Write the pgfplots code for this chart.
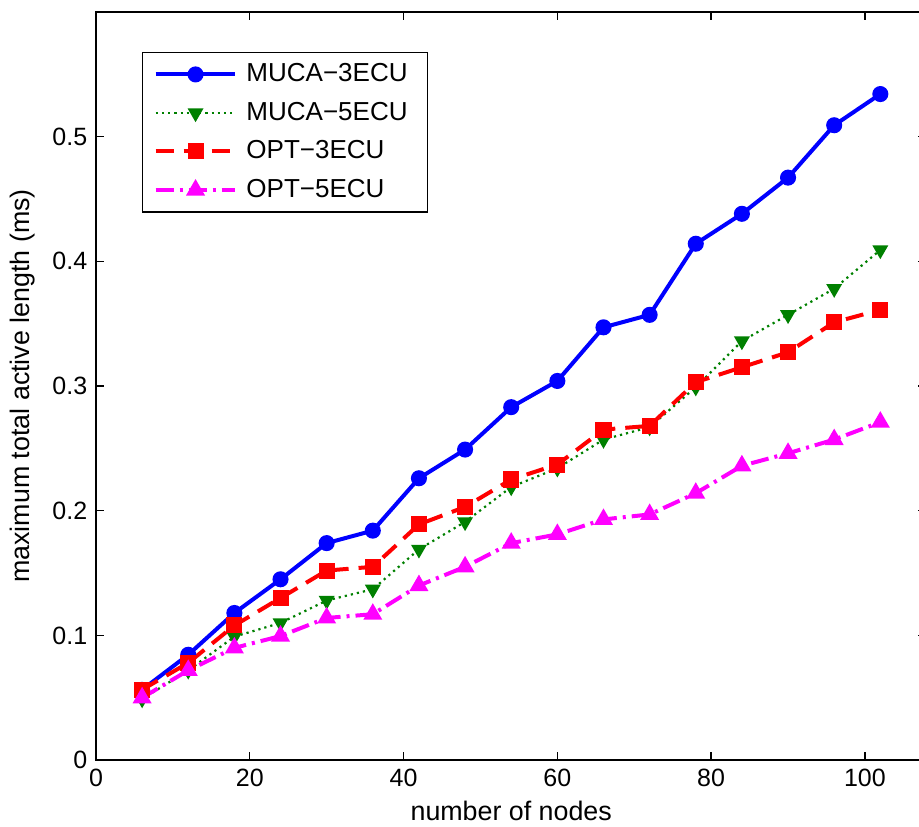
\documentclass[border=0pt]{standalone}
\usepackage{fontspec}
\setmainfont{Liberation Sans}
\usepackage{pgfplots}
\pgfplotsset{compat=1.18}
\definecolor{mgreen}{rgb}{0,0.5,0}
\definecolor{mmag}{rgb}{1,0,1}
\definecolor{mblue}{rgb}{0,0,1}
\definecolor{mred}{rgb}{1,0,0}
\begin{document}
\fontsize{12.5}{15}\selectfont
\begin{tikzpicture}
\begin{axis}[
  scale only axis,
  width=415pt, height=374pt,
  xmin=0, xmax=108, ymin=0, ymax=0.6,
  xtick={0,20,40,60,80,100},
  ytick={0,0.1,0.2,0.3,0.4,0.5},
  yticklabels={0,0.1,0.2,0.3,0.4,0.5},
  tick align=inside,
  major tick length=4pt,
  minor tick num=0,
  axis line style={line width=0.9pt},
  every tick/.style={line width=0.7pt, black},
  /pgf/number format/assume math mode=true,
  tick label style={font=\fontsize{12.5}{15}\selectfont},
  label style={font=\fontsize{13.4}{16}\selectfont},
  xlabel={number of nodes},
  ylabel={maximum total active length (ms)},
  xlabel style={yshift=1.2pt},
  ylabel style={yshift=0pt},
  clip=false,
  legend style={at={(axis description cs:0.0554,0.9465)}, anchor=north west,
    draw=black, line width=0.7pt, font=\fontsize{13}{15}\selectfont,
    row sep=4.3pt, inner xsep=5.5pt, inner ysep=3.5pt,
    nodes={inner xsep=4.5pt}},
  legend cell align=left,
  legend image code/.code={\draw[mark repeat=2,mark phase=2] plot coordinates {(0cm,0cm) (0.7cm,0cm) (1.4cm,0cm)};},
]
\addplot[mblue, line width=2pt, mark=*, mark size=3pt, mark options={solid}] coordinates {
(6,0.0564) (12,0.0845) (18,0.118) (24,0.145) (30,0.174) (36,0.184) (42,0.226) (48,0.249) (54,0.283) (60,0.304) (66,0.347) (72,0.357) (78,0.414) (84,0.438) (90,0.467) (96,0.509) (102,0.534)};
\addlegendentry{MUCA−3ECU}
\addplot[mgreen, line width=1.1pt, dotted, mark=triangle*, mark size=3.5pt, mark options={solid, rotate=180}] coordinates {
(6,0.049) (12,0.072) (18,0.099) (24,0.110) (30,0.128) (36,0.137) (42,0.169) (48,0.191) (54,0.219) (60,0.234) (66,0.257) (72,0.267) (78,0.299) (84,0.336) (90,0.357) (96,0.378) (102,0.409)};
\addlegendentry{MUCA−5ECU}
\addplot[mred, line width=2pt, dash pattern=on 9pt off 5pt, mark=square*, mark size=3pt, mark options={solid}] coordinates {
(6,0.0565) (12,0.078) (18,0.108) (24,0.130) (30,0.152) (36,0.155) (42,0.189) (48,0.203) (54,0.225) (60,0.237) (66,0.265) (72,0.268) (78,0.303) (84,0.315) (90,0.327) (96,0.351) (102,0.361)};
\addlegendentry{OPT−3ECU}
\addplot[mmag, line width=2pt, dash pattern=on 9pt off 3pt on 1.5pt off 3pt, mark=triangle*, mark size=3.5pt, mark options={solid}] coordinates {
(6,0.050) (12,0.072) (18,0.090) (24,0.0995) (30,0.114) (36,0.117) (42,0.140) (48,0.155) (54,0.174) (60,0.181) (66,0.193) (72,0.197) (78,0.214) (84,0.236) (90,0.246) (96,0.257) (102,0.271)};
\addlegendentry{OPT−5ECU}
\coordinate (bl) at (axis cs:-12.48,-0.0535);
\coordinate (tr) at (axis cs:107.03,0.6094);
\end{axis}
\pgfresetboundingbox
\useasboundingbox (bl) rectangle (tr);
\end{tikzpicture}
\end{document}
